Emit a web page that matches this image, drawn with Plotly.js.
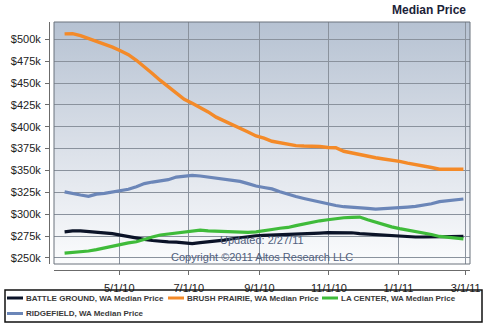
<!DOCTYPE html>
<html>
<head>
<meta charset="utf-8">
<script src="https://cdn.plot.ly/plotly-3.0.1.min.js"></script>
<style>html,body{margin:0;padding:0;background:#fff;}#chart{width:486px;height:329px;}</style>
</head>
<body>
<div id="chart"></div>
<script>
// ---- Data (values in $ thousands) ----
var weeks = [
  '2010-03-14','2010-03-21','2010-03-28','2010-04-04','2010-04-11','2010-04-18','2010-04-25',
  '2010-05-02','2010-05-09','2010-05-16','2010-05-23','2010-05-30','2010-06-06','2010-06-13',
  '2010-06-20','2010-06-27','2010-07-04','2010-07-11','2010-07-18','2010-07-25','2010-08-01',
  '2010-08-08','2010-08-15','2010-08-22','2010-08-29','2010-09-05','2010-09-12','2010-09-19',
  '2010-09-26','2010-10-03','2010-10-10','2010-10-17','2010-10-24','2010-10-31','2010-11-07',
  '2010-11-14','2010-11-21','2010-11-28','2010-12-05','2010-12-12','2010-12-19','2010-12-26',
  '2011-01-02','2011-01-09','2011-01-16','2011-01-23','2011-01-30','2011-02-06','2011-02-13',
  '2011-02-20','2011-02-27'
];
var seriesNames = [
  'BATTLE GROUND, WA Median Price',
  'BRUSH PRAIRIE, WA Median Price',
  'LA CENTER, WA Median Price',
  'RIDGEFIELD, WA Median Price'
];
var battleGround = [
  279.9,280.9,280.9,280.2,279.0,278.2,277.8,276.2,274.3,272.8,271.3,270.0,269.0,268.3,
  268.0,267.0,266.5,267.5,268.3,269.5,270.5,272.0,273.3,274.5,275.4,275.8,276.3,276.8,
  277.2,277.5,277.9,278.2,278.5,278.9,278.9,278.9,278.8,277.8,277.2,276.7,276.3,275.8,
  275.2,274.6,274.0,274.0,274.0,274.0,274.2,274.5,274.8
];
var brushPrairie = [
  506.2,506.5,504.2,500.8,497.8,495.0,491.0,487.0,482.5,476.0,469.0,461.0,453.0,445.5,
  438.0,431.5,427.0,422.5,417.0,411.0,407.0,402.0,398.0,394.0,389.5,387.0,383.4,381.5,
  379.8,378.5,378.0,377.8,377.5,376.3,376.0,372.0,370.0,368.6,366.5,364.6,363.2,362.0,
  360.5,358.5,357.0,355.5,353.4,351.4,351.4,351.4,351.4
];
var laCenter = [
  255.6,256.2,256.9,258.0,259.5,261.5,264.0,266.0,267.2,268.5,271.5,274.0,276.3,277.4,
  278.6,280.0,281.0,281.9,281.0,280.6,280.5,280.0,279.2,279.2,279.8,281.6,282.5,284.0,
  284.9,287.0,289.0,291.0,292.5,293.7,295.0,296.0,296.5,296.8,293.8,290.8,288.2,285.6,
  283.5,282.0,280.2,278.6,276.8,274.6,273.5,272.6,271.8
];
var ridgefield = [
  325.5,323.5,322.0,320.5,323.0,323.8,325.3,327.0,328.5,331.5,335.0,336.8,338.2,339.5,
  342.5,343.8,344.5,343.7,342.5,341.5,340.6,339.5,337.5,335.0,332.3,330.6,329.0,325.8,
  322.6,320.2,318.0,315.8,313.8,311.8,310.0,308.6,308.3,308.0,306.8,305.8,306.2,307.0,
  307.6,308.2,309.0,310.2,312.0,314.4,315.2,316.3,317.4
];
var xTickVals = ['2010-05-01','2010-07-01','2010-09-01','2010-11-01','2011-01-01','2011-03-01'];
var xTickText = ['5/1/10','7/1/10','9/1/10','11/1/10','1/1/11','3/1/11'];
var yTickVals = [250,275,300,325,350,375,400,425,450,475,500];
var yTickText = ['$250k','$275k','$300k','$325k','$350k','$375k','$400k','$425k','$450k','$475k','$500k'];
var chartTitle = 'Median Price';
var updatedNote = 'Updated: 2/27/11';
var copyrightNote = 'Copyright \u00a92011 Altos Research LLC';

// ---- Styling ----
var colors = ['#0b1328', '#f48a28', '#3fbb3a', '#6b86b8'];
var widths = [3.2, 3.4, 3.2, 3.2];
var FONT = 'Liberation Sans, Arial, Helvetica, sans-serif';

var W = 486, H = 329;
var mL = 49, mR = 16, mT = 22, mB = 59;
var pw = W - mL - mR, ph = H - mT - mB;
function px2x(p){ return (p - mL) / pw; }
function px2y(p){ return (H - mB - p) / ph; }
var xDom0 = px2x(54), yDom0 = px2y(264);

var allSeries = [battleGround, brushPrairie, laCenter, ridgefield];
var traces = allSeries.map(function(vals, i){
  return {
    x: weeks, y: vals, type: 'scatter', mode: 'lines', name: seriesNames[i],
    line: {color: colors[i], width: widths[i], shape: 'linear'},
    showlegend: false, hoverinfo: 'skip'
  };
});

var gradSvg = "<svg xmlns='http://www.w3.org/2000/svg' width='10' height='100' preserveAspectRatio='none'>" +
  "<defs><linearGradient id='g' x1='0' y1='0' x2='0' y2='1'>" +
  "<stop offset='0' stop-color='#b6c2d2'/><stop offset='0.55' stop-color='#dde2ea'/><stop offset='1' stop-color='#fbfcfd'/>" +
  "</linearGradient></defs><rect width='10' height='100' fill='url(#g)'/></svg>";
var gradUri = 'data:image/svg+xml;charset=utf-8,' + encodeURIComponent(gradSvg);

// custom legend
var legendItems = [
  {sx: 7, tx: 26, y: 298},
  {sx: 168, tx: 187, y: 298},
  {sx: 322, tx: 341, y: 298},
  {sx: 7, tx: 26, y: 313.5}
];
var shapes = [
  {type: 'rect', xref: 'paper', yref: 'paper', x0: xDom0, x1: 1, y0: yDom0, y1: 1,
   line: {color: '#6b727c', width: 1}, layer: 'above'},
  {type: 'rect', xref: 'paper', yref: 'paper', x0: px2x(5), x1: px2x(482), y0: px2y(290), y1: px2y(322),
   line: {color: '#111', width: 1.5}, fillcolor: 'rgba(0,0,0,0)'}
];
var annotations = [
  {xref: 'paper', yref: 'paper', x: px2x(262), y: px2y(240), text: updatedNote, showarrow: false,
   xanchor: 'center', yanchor: 'middle', font: {family: FONT, size: 11, color: '#52617e'}},
  {xref: 'paper', yref: 'paper', x: px2x(262), y: px2y(257), text: copyrightNote, showarrow: false,
   xanchor: 'center', yanchor: 'middle', font: {family: FONT, size: 11, color: '#52617e'}}
];
legendItems.forEach(function(it, i){
  shapes.push({type: 'line', xref: 'paper', yref: 'paper', x0: px2x(it.sx), x1: px2x(it.sx + 16),
    y0: px2y(it.y), y1: px2y(it.y), line: {color: colors[i], width: 3}});
  annotations.push({xref: 'paper', yref: 'paper', x: px2x(it.tx - 1), y: px2y(it.y), text: '<b>' + seriesNames[i] + '</b>',
    showarrow: false, xanchor: 'left', yanchor: 'middle', borderpad: 0,
    font: {family: FONT, size: 8, color: '#3a3a3a'}});
});

var layout = {
  width: W, height: H, autosize: false,
  margin: {l: mL, r: mR, t: mT, b: mB, pad: 0},
  paper_bgcolor: '#ffffff', plot_bgcolor: 'rgba(0,0,0,0)',
  showlegend: false,
  title: {text: '<b>' + chartTitle + '</b>', xref: 'container', yref: 'container',
    x: 466 / W, xanchor: 'right', y: 1 - 10 / H, yanchor: 'middle',
    font: {family: FONT, size: 12, color: '#1b2238'}},
  xaxis: {
    type: 'date', domain: [xDom0, 1], anchor: 'free', position: 0,
    range: ['2010-03-04 17:00', '2011-03-04 19:00'],
    tickmode: 'array', tickvals: xTickVals, ticktext: xTickText,
    showgrid: true, gridcolor: '#8a929d', gridwidth: 1,
    showline: true, linecolor: '#6b6b6b', linewidth: 1,
    ticks: 'outside', ticklen: 4, tickcolor: '#6b6b6b', tickwidth: 1,
    ticklabelstandoff: 4,
    tickfont: {family: FONT, size: 11, color: '#222'},
    zeroline: false, fixedrange: true, automargin: false
  },
  yaxis: {
    domain: [yDom0, 1], anchor: 'free', position: 0,
    range: [243.1, 519.8],
    tickmode: 'array', tickvals: yTickVals, ticktext: yTickText,
    showgrid: true, gridcolor: '#8a929d', gridwidth: 1,
    showline: true, linecolor: '#6b6b6b', linewidth: 1,
    ticks: 'outside', ticklen: 4, tickcolor: '#6b6b6b', tickwidth: 1,
    ticklabelstandoff: 2,
    tickfont: {family: FONT, size: 11, color: '#222'},
    zeroline: false, fixedrange: true, automargin: false
  },
  images: [{source: gradUri, xref: 'paper', yref: 'paper', x: xDom0, y: 1,
    sizex: 1 - xDom0, sizey: 1 - yDom0, xanchor: 'left', yanchor: 'top',
    sizing: 'stretch', layer: 'below'}],
  shapes: shapes,
  annotations: annotations
};

Plotly.newPlot('chart', traces, layout, {displayModeBar: false, staticPlot: true});
</script>
</body>
</html>
